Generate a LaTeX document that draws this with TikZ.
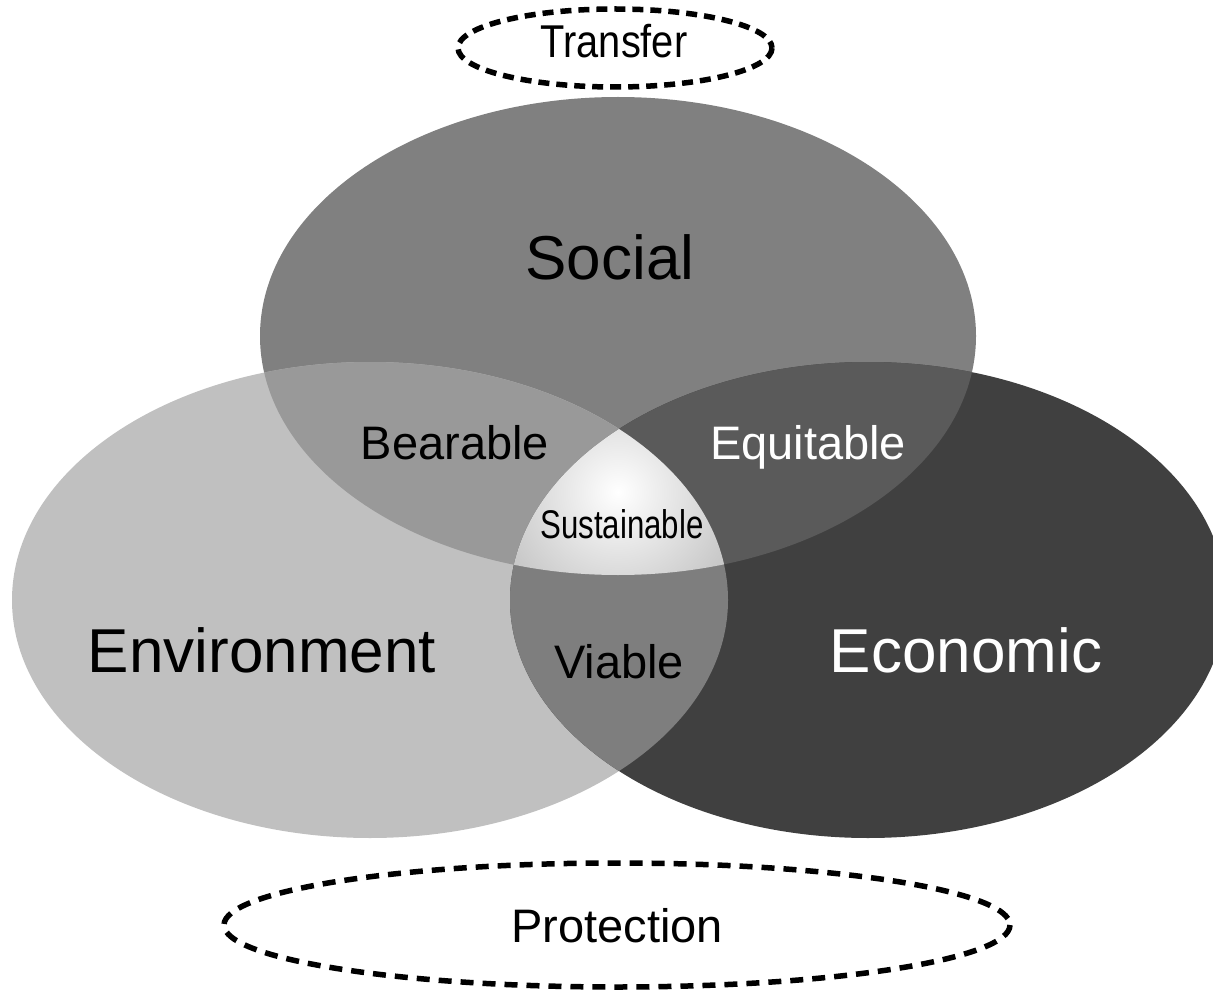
\documentclass[tikz,border=0pt]{standalone}
\usepackage{fontspec}
\setmainfont{Liberation Sans}
\definecolor{socialgray}{HTML}{808080}
\definecolor{envgray}{HTML}{C0C0C0}
\definecolor{econgray}{HTML}{404040}
\definecolor{beargray}{HTML}{999999}
\definecolor{equigray}{HTML}{5A5A5A}
\definecolor{viagray}{HTML}{7E7E7E}
\tikzset{
  lbl/.style={inner sep=0pt, anchor=base},
  dashring/.style={draw=black, line width=5.5pt, dash pattern=#1},
}
\begin{document}
\begin{tikzpicture}[x=1pt, y=-1pt]
    \useasboundingbox (0,0) rectangle (1213,992);
    \clip (0,0) rectangle (1213,992);
    \def\socialpath{(618,336) ellipse [x radius=358, y radius=239]}
    \def\envpath{(370,600) ellipse [x radius=358, y radius=238]}
    \def\econpath{(868,600) ellipse [x radius=358, y radius=238]}
    % the three circles
    \fill [socialgray] \socialpath;
    \fill [envgray] \envpath;
    \fill [econgray] \econpath;
    % overlaps
    \begin{scope}
        \clip \socialpath;
        \fill [beargray] \envpath;
        \fill [equigray] \econpath;
    \end{scope}
    \begin{scope}
        \clip \envpath;
        \fill [viagray] \econpath;
    \end{scope}
    \begin{scope}
        \clip \socialpath;
        \clip \envpath;
        \clip \econpath;
        \shade [inner color=white, outer color=gray!42] (498,372) rectangle (738,612);
    \end{scope}
    % dashed rings
    \draw [dashring={on 11pt off 7pt}] (615,48) ellipse [x radius=157, y radius=39];
    \draw [dashring={on 13pt off 9pt}] (617,925) ellipse [x radius=393, y radius=62];
    % labels
    \node [lbl, font=\fontsize{62}{62}\selectfont] (social) at (610,280) {Social};
    \node [lbl, font=\fontsize{62}{62}\selectfont] (env) at (262,672) {Environment};
    \node [lbl, font=\fontsize{62}{62}\selectfont, text=white] (econ) at (966,672) {Economic};
    \node [lbl, font=\fontsize{47}{47}\selectfont] (bearable) at (455,459) {Bearable};
    \node [lbl, font=\fontsize{47}{47}\selectfont, text=white] (equitable) at (808,459) {Equitable};
    \node [lbl, font=\fontsize{47}{47}\selectfont] (viable) at (619,678) {Viable};
    \node [lbl, font=\fontsize{40}{40}\selectfont, xscale=0.78] (sustainable) at (622,538) {Sustainable};
    \node [lbl, font=\fontsize{46}{46}\selectfont, xscale=0.865] (transfer) at (614,58) {Transfer};
    \node [lbl, font=\fontsize{47}{47}\selectfont] (protection) at (617,942) {Protection};
\end{tikzpicture}
\end{document}
